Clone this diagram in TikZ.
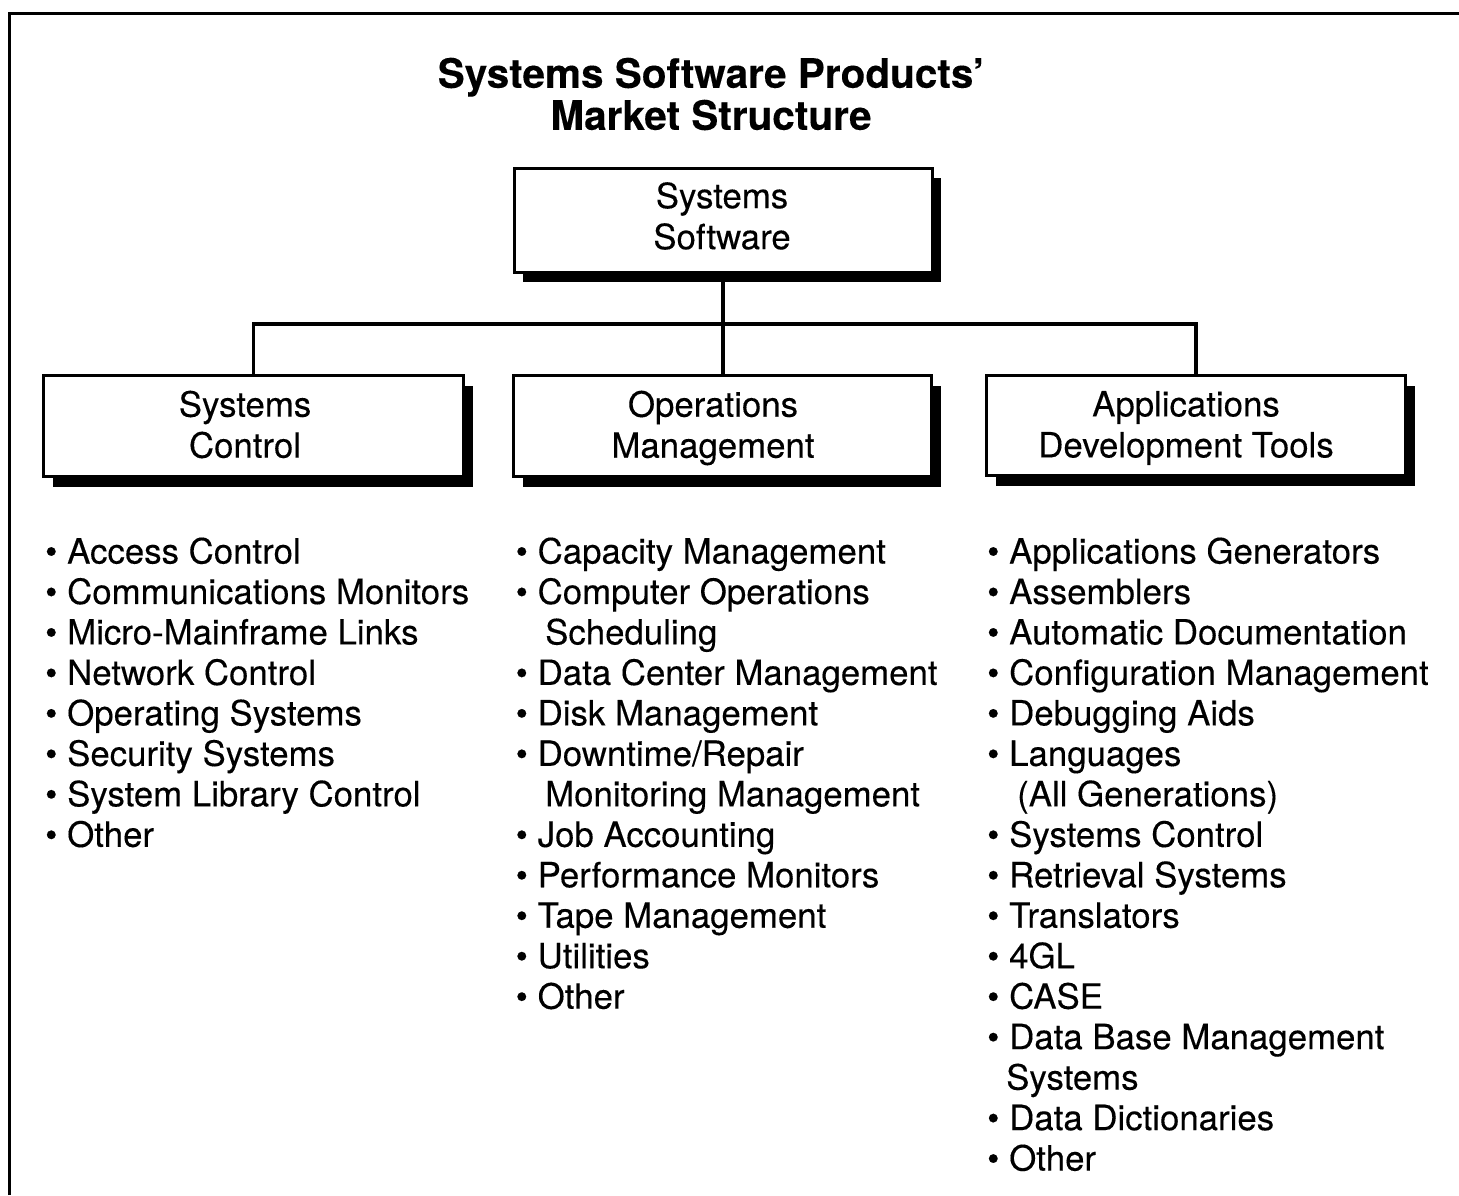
\documentclass[tikz,border=0pt]{standalone}
\usepackage{fontspec}
\setmainfont{TeX Gyre Heros}[FakeBold=0.25]
\newfontfamily\titlefont{TeX Gyre Heros}[FakeBold=0.2]
\usetikzlibrary{shadows}
\newcommand\bulx{\makebox[22pt][l]{•}}
\newcommand\contx[1]{\hspace*{#1pt}}
\begin{document}
\begin{tikzpicture}[x=1pt,y=-1pt,line join=miter,
  box/.style={draw, line width=3pt, fill=white, inner sep=0pt,
    drop shadow={shadow xshift=9pt, shadow yshift=-10pt, opacity=1, fill=black}},
  boxtext/.style={align=center, font=\fontsize{34.8}{41}\selectfont, inner sep=0pt},
  item/.style={anchor=base west, font=\fontsize{34.8}{41}\selectfont, inner sep=0pt},
  conn/.style={line width=3.2pt},
  titlestyle/.style={align=center, font=\titlefont\fontsize{40.5}{42}\selectfont\bfseries, inner sep=0pt}]
\useasboundingbox (0,0) rectangle (1459,1195);
\fill[white] (0,0) rectangle (1459,1195);
% frame
\draw[line width=3pt] (9,1195) -- (9,13) -- (1459,13);
% title
\node[titlestyle] (title) at (711,94) {Systems Software Products’\\Market Structure};
% boxes
\node[box, minimum width=418pt, minimum height=104pt] (ss) at (723,220) {};
\node[box, minimum width=420pt, minimum height=101pt] (sc) at (253.5,426) {};
\node[box, minimum width=418pt, minimum height=101pt] (om) at (722.5,426) {};
\node[box, minimum width=419pt, minimum height=100pt] (adt) at (1196,425.5) {};
% box texts
\node[boxtext] (sst) at (722,216) {Systems\\Software};
\node[boxtext] (sct) at (245,424.5) {Systems\\Control};
\node[boxtext] (omt) at (713,428) {Operations\\Management};
\node[boxtext] (adtt) at (1186,428) {Applications\\Development Tools};
% connectors
\coordinate (bus) at (723,324);
\draw[conn] (ss.south) -- (ss.south |- om.north);
\draw[conn] (sc.north) |- (bus) -| (adt.north);
% lists
\foreach \t [count=\i from 0] in {\bulx Access Control, \bulx Communications Monitors, \bulx Micro-Mainframe Links, \bulx Network Control, \bulx Operating Systems, \bulx Security Systems, \bulx System Library Control, \bulx Other}
  \node[item] (l\i) at (45,{563.5+40.47*\i}) {\t};
\foreach \t [count=\i from 0] in {\bulx Capacity Management, \bulx Computer Operations, \contx{29.5}Scheduling, \bulx Data Center Management, \bulx Disk Management, \bulx Downtime/Repair, \contx{29.5}Monitoring Management, \bulx Job Accounting, \bulx Performance Monitors, \bulx Tape Management, \bulx Utilities, \bulx Other}
  \node[item] (m\i) at (515.5,{563.5+40.47*\i}) {\t};
\foreach \t [count=\i from 0] in {\bulx Applications Generators, \bulx Assemblers, \bulx Automatic Documentation, \bulx Configuration Management, \bulx Debugging Aids, \bulx Languages, \contx{30}(All Generations), \bulx Systems Control, \bulx Retrieval Systems, \bulx Translators, \bulx 4GL, \bulx CASE, \bulx Data Base Management, \contx{19}Systems, \bulx Data Dictionaries, \bulx Other}
  \node[item] (r\i) at (987,{563.5+40.47*\i}) {\t};
\end{tikzpicture}
\end{document}
